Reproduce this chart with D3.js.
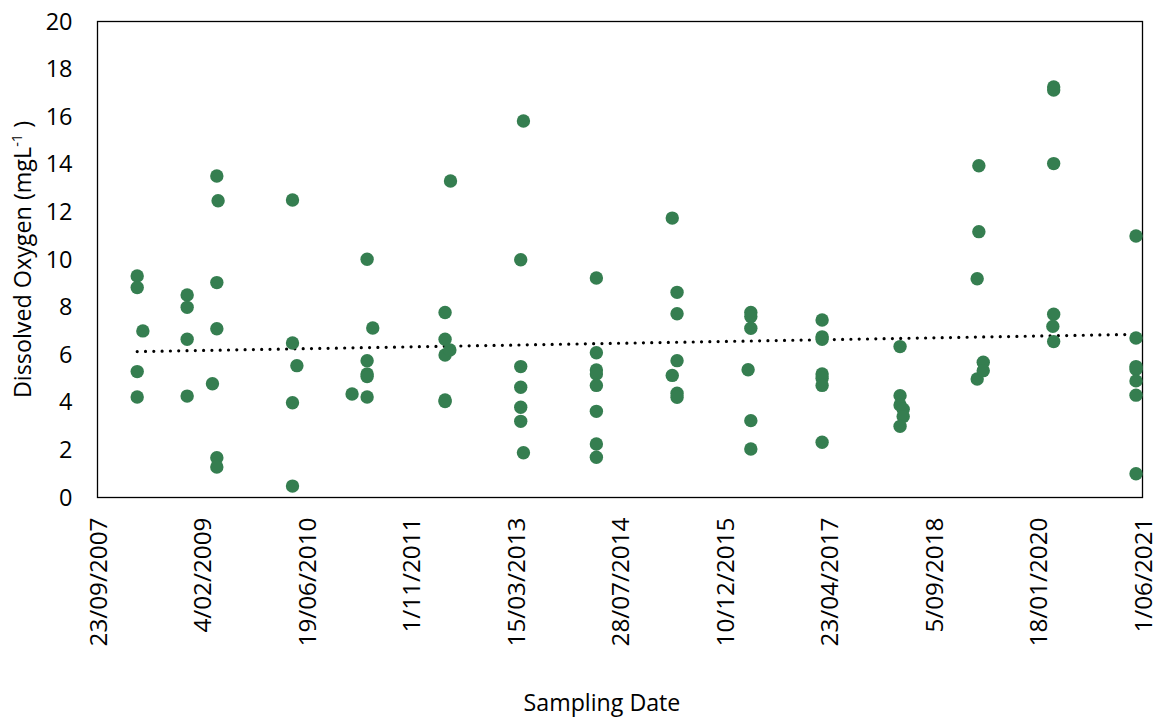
<!DOCTYPE html>
<html>
<head>
<meta charset="utf-8">
<script src="https://cdn.jsdelivr.net/npm/d3@7"></script>
<style>
  html, body { margin: 0; padding: 0; background: #fff; }
  svg { display: block; }
  text { font-family: "Open Sans", sans-serif; fill: #000; }
</style>
</head>
<body>
<svg id="chart" width="1162" height="717"></svg>
<script>
// Sampling dates (one entry per sample) and dissolved oxygen readings, mg/L
const sampleDates = [
  "2008-03-31","2008-03-31","2008-03-31","2008-03-31","2008-04-27",
  "2008-11-25","2008-11-25","2008-11-25","2008-11-25",
  "2009-03-26","2009-04-16","2009-04-16","2009-04-16","2009-04-16","2009-04-16","2009-04-22",
  "2010-04-13","2010-04-13","2010-04-13","2010-04-13","2010-05-04",
  "2011-01-23",
  "2011-04-05","2011-04-05","2011-04-05","2011-04-05","2011-04-05","2011-05-02",
  "2012-04-12","2012-04-12","2012-04-12","2012-04-12","2012-04-12","2012-05-05","2012-05-08",
  "2013-04-09","2013-04-09","2013-04-09","2013-04-09","2013-04-09","2013-04-22","2013-04-22",
  "2014-04-06","2014-04-06","2014-04-06","2014-04-06","2014-04-06","2014-04-06","2014-04-06","2014-04-06",
  "2015-04-04","2015-04-04","2015-04-27","2015-04-27","2015-04-27","2015-04-27","2015-04-27",
  "2016-04-01","2016-04-14","2016-04-14","2016-04-14","2016-04-14","2016-04-14",
  "2017-03-21","2017-03-21","2017-03-21","2017-03-21","2017-03-21","2017-03-21","2017-03-21",
  "2018-03-29","2018-03-29","2018-03-29","2018-04-13","2018-04-13","2018-03-29",
  "2019-04-02","2019-04-02","2019-04-10","2019-04-10","2019-05-01","2019-05-01",
  "2020-04-02","2020-04-02","2020-04-02","2020-04-02","2020-04-02","2020-03-29",
  "2021-05-01","2021-05-01","2021-05-01","2021-05-01","2021-05-01","2021-05-01","2021-05-01"
];
const oxygenValues = [
  9.31, 8.82, 5.29, 4.22, 7.00,
  8.51, 7.99, 6.65, 4.26,
  4.78, 13.51, 9.03, 7.09, 1.67, 1.28, 12.47,
  12.50, 6.49, 3.98, 0.48, 5.54,
  4.35,
  10.01, 5.75, 5.19, 5.08, 4.22, 7.12,
  7.77, 6.65, 5.99, 4.03, 4.10, 6.20, 13.30,
  9.99, 5.50, 4.63, 3.79, 3.20, 15.82, 1.88,
  9.22, 6.08, 5.36, 5.19, 4.71, 3.62, 2.25, 1.69,
  11.74, 5.13, 8.62, 7.72, 5.75, 4.38, 4.21,
  5.37, 7.77, 7.60, 7.11, 3.23, 2.04,
  7.46, 6.75, 6.65, 5.19, 5.01, 4.71, 2.32,
  6.34, 4.28, 3.89, 3.71, 3.40, 2.99,
  9.19, 4.98, 13.94, 11.17, 5.68, 5.33,
  17.25, 17.12, 14.03, 7.70, 6.55, 7.19,
  10.99, 6.70, 5.50, 5.39, 4.90, 4.30, 1.00
];

// Axis tick labels
const xTickLabels = ["23/09/2007","4/02/2009","19/06/2010","1/11/2011","15/03/2013",
  "28/07/2014","10/12/2015","23/04/2017","5/09/2018","18/01/2020","1/06/2021"];
const yTickValues = [0, 2, 4, 6, 8, 10, 12, 14, 16, 18, 20];

const parseIso = d3.utcParse("%Y-%m-%d");
const parseTick = d3.utcParse("%d/%m/%Y");
const points = sampleDates.map((d, i) => ({ date: parseIso(d), value: oxygenValues[i] }));
const tickDates = xTickLabels.map(parseTick);

const svg = d3.select("#chart");
const plot = { left: 97.5, top: 21.5, right: 1142.5, bottom: 497.5 };

const x = d3.scaleUtc()
  .domain([tickDates[0], tickDates[tickDates.length - 1]])
  .range([plot.left, plot.right]);
const y = d3.scaleLinear().domain([0, 20]).range([plot.bottom, plot.top]);

// Plot area border
svg.append("rect")
  .attr("x", plot.left).attr("y", plot.top)
  .attr("width", plot.right - plot.left).attr("height", plot.bottom - plot.top)
  .attr("fill", "none").attr("stroke", "#000").attr("stroke-width", 1.3);

// Y axis labels
const yAxis = d3.axisLeft(y).tickValues(yTickValues).tickSize(0).tickPadding(25);
svg.append("g").attr("transform", `translate(${plot.left},0)`).call(yAxis)
  .call(g => g.select(".domain").remove())
  .selectAll("text").attr("font-size", 23.5).attr("font-family", "'Open Sans', sans-serif");

// X axis labels, rotated
const xAxis = d3.axisBottom(x).tickValues(tickDates).tickSize(0)
  .tickFormat((d, i) => xTickLabels[i]);
svg.append("g").attr("transform", `translate(0,${plot.bottom})`).call(xAxis)
  .call(g => g.select(".domain").remove())
  .selectAll("text")
  .attr("font-size", 24.3).attr("font-family", "'Open Sans', sans-serif")
  .attr("text-anchor", "end")
  .attr("transform", "rotate(-90)")
  .attr("x", -20).attr("y", 0).attr("dy", "0.36em");

// Linear trend line (least squares over date)
const xs = points.map(p => +p.date), ys = points.map(p => p.value);
const mx = d3.mean(xs), my = d3.mean(ys);
const slope = d3.sum(xs.map((v, i) => (v - mx) * (ys[i] - my))) / d3.sum(xs.map(v => (v - mx) * (v - mx)));
const intercept = my - slope * mx;
const [d0, d1] = d3.extent(points, p => p.date);
const trend = [d0, d1].map(d => ({ date: d, value: intercept + slope * +d }));
svg.append("path")
  .datum(trend)
  .attr("d", d3.line().x(d => x(d.date)).y(d => y(d.value)))
  .attr("fill", "none").attr("stroke", "#000")
  .attr("stroke-width", 3.2).attr("stroke-linecap", "round")
  .attr("stroke-dasharray", "0 8.3");

// Sample points
svg.append("g").selectAll("circle").data(points).join("circle")
  .attr("cx", d => x(d.date)).attr("cy", d => y(d.value))
  .attr("r", 6.7).attr("fill", "#357e50");

// Axis titles
svg.append("text")
  .attr("x", 602).attr("y", 711)
  .attr("text-anchor", "middle").attr("font-size", 23.2)
  .text("Sampling Date");

const yTitle = svg.append("text")
  .attr("transform", `translate(31,${(plot.top + plot.bottom) / 2}) rotate(-90)`)
  .attr("text-anchor", "middle").attr("font-size", 23.3);
yTitle.append("tspan").text("Dissolved Oxygen (mgL");
yTitle.append("tspan").attr("font-size", 14.5).attr("dy", -9).text("-1");
yTitle.append("tspan").attr("dy", 9).text(" )");
</script>
</body>
</html>
